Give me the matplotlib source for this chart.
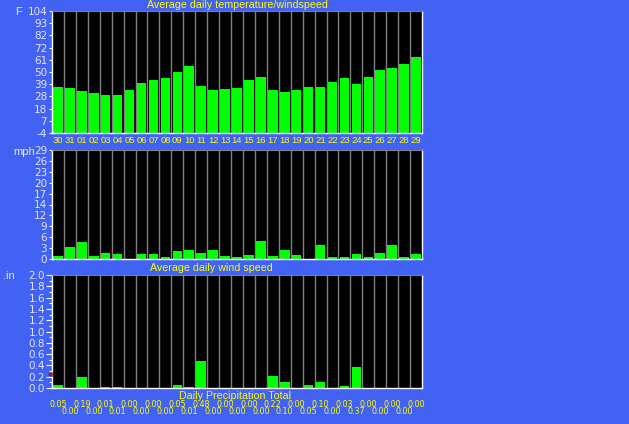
import numpy as np
import matplotlib
matplotlib.use("Agg")
import matplotlib.pyplot as plt
from matplotlib.ticker import MultipleLocator

# ---- data ----
days = ['30', '31', '01', '02', '03', '04', '05', '06', '07', '08', '09', '10',
        '11', '12', '13', '14', '15', '16', '17', '18', '19', '20', '21', '22',
        '23', '24', '25', '26', '27', '28', '29']

temp_f = [37.0, 36.1, 33.4, 31.7, 29.9, 29.9, 34.3, 40.5, 43.2, 44.9, 50.2, 55.6,
          37.9, 34.3, 35.2, 36.1, 43.2, 45.8, 34.3, 32.5, 34.3, 37.0, 37.0, 41.4,
          44.9, 39.6, 45.8, 52.0, 53.8, 57.3, 63.5]

wind_mph = [0.9, 3.1, 4.4, 0.7, 1.5, 1.2, 0.0, 1.2, 1.2, 0.4, 2.0, 2.3,
            1.5, 2.3, 0.7, 0.4, 1.0, 4.7, 0.7, 2.3, 1.0, 0.0, 3.6, 0.4,
            0.4, 1.2, 0.4, 1.5, 3.6, 0.4, 1.2]

precip_in = [0.05, 0.00, 0.19, 0.00, 0.01, 0.01, 0.00, 0.00, 0.00, 0.00, 0.05, 0.01,
             0.48, 0.00, 0.00, 0.00, 0.00, 0.00, 0.22, 0.10, 0.00, 0.05, 0.10, 0.00,
             0.03, 0.37, 0.00, 0.00, 0.00, 0.00, 0.00]

temp_ticks = [-4, 6.8, 17.6, 28.4, 39.2, 50, 60.8, 71.6, 82.4, 93.2, 104]
temp_ticklabels = ['-4', '7', '18', '28', '39', '50', '61', '72', '82', '93', '104']
wind_ticks = [0, 2.9, 5.8, 8.7, 11.6, 14.5, 17.4, 20.3, 23.2, 26.1, 29]
wind_ticklabels = ['0', '3', '6', '9', '12', '14', '17', '20', '23', '26', '29']

# ---- style ----
BG = '#4262f4'
GREEN = '#00ff00'
YELLOW = '#ffff00'
LABEL = '#e4e4ff'
GRID = '#808080'
W, H = 629, 424


def fx(x):
    return x / W


def fy(y):
    return 1 - y / H


def make_axes(top, bottom):
    ax = fig.add_axes([fx(52), fy(bottom), fx(370), (bottom - top) / H])
    ax.set_facecolor('black')
    ax.set_xlim(0, len(days))
    for b in range(1, len(days)):
        ax.axvline(b, color=GRID, lw=1.0, zorder=1)
    for side in ['left', 'bottom', 'right']:
        ax.spines[side].set_color('white')
        ax.spines[side].set_linewidth(1.0)
    ax.spines['top'].set_color(GRID)
    ax.tick_params(axis='y', colors='white', labelcolor=LABEL, length=2.5,
                   width=0.8, pad=1, labelsize=7.5)
    ax.tick_params(axis='x', length=0)
    for t in ax.get_yticklabels():
        t.set_family('DejaVu Sans')
    return ax


fig = plt.figure(figsize=(W / 100, H / 100), dpi=100, facecolor=BG)
x = np.arange(len(days)) + 0.5

# panel 1: temperature
ax1 = make_axes(11, 133)
ax1.set_ylim(-4, 104)
ax1.bar(x, np.array(temp_f) + 4, bottom=-4, width=0.8, color=GREEN, zorder=2)
ax1.set_yticks(temp_ticks)
ax1.set_yticklabels(temp_ticklabels)
ax1.set_xticks(x)
ax1.set_xticklabels(days, color=YELLOW, fontsize=6.8, family='Liberation Sans')
ax1.tick_params(axis='x', pad=2.5)

# panel 2: wind
ax2 = make_axes(150, 259)
ax2.set_ylim(0, 29)
ax2.bar(x, wind_mph, width=0.8, color=GREEN, zorder=2)
ax2.set_yticks(wind_ticks)
ax2.set_yticklabels(wind_ticklabels)
ax2.set_xticks([])

# panel 3: precipitation
ax3 = make_axes(275, 388)
ax3.set_ylim(0, 2.0)
ax3.bar(x, precip_in, width=0.8, color=GREEN, zorder=2)
ax3.yaxis.set_major_locator(MultipleLocator(0.2))
ax3.yaxis.set_minor_locator(MultipleLocator(0.1))
ax3.yaxis.set_major_formatter(matplotlib.ticker.FormatStrFormatter('%.1f'))
ax3.tick_params(axis='y', which='major', length=4)
ax3.tick_params(axis='y', which='minor', colors='white', length=2, width=0.8)
ax3.set_xticks([])
# little red pointer at the left edge
ax3.plot([-0.15], [0.25], marker='<', color='#e01010', markersize=3,
         markeredgecolor='#400000', markeredgewidth=0.3, clip_on=False, zorder=5)

trans = ax3.get_xaxis_transform()
for i, v in enumerate(precip_in):
    yy = -0.142 if i % 2 == 0 else -0.204
    ax3.text(x[i], yy, '%.2f' % v, transform=trans, ha='center', va='center',
             color=YELLOW, fontsize=5.8, family='DejaVu Sans')

# titles and units
fig.text(fx(237), fy(5), 'Average daily temperature/windspeed', color=YELLOW,
         ha='center', va='center', fontsize=7.7, family='Liberation Sans')
fig.text(fx(211), fy(268), 'Average daily wind speed', color=YELLOW,
         ha='center', va='center', fontsize=7.7, family='Liberation Sans')
fig.text(fx(235), fy(396), 'Daily Precipitation Total', color=YELLOW,
         ha='center', va='center', fontsize=7.7, family='Liberation Sans')
fig.text(fx(19), fy(12), 'F', color=LABEL, ha='center', va='center',
         fontsize=8, family='Liberation Sans')
fig.text(fx(24), fy(152), 'mph', color=LABEL, ha='center', va='center',
         fontsize=8, family='Liberation Sans')
fig.text(fx(9), fy(276), '.in', color=LABEL, ha='center', va='center',
         fontsize=8, family='Liberation Sans')

fig.savefig('out.png', dpi=100, facecolor=BG)
